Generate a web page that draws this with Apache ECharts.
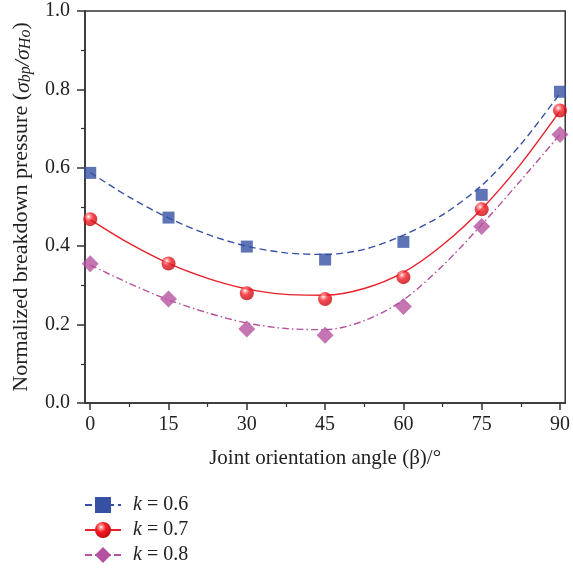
<!DOCTYPE html>
<html>
<head>
<meta charset="utf-8">
<script src="https://cdn.jsdelivr.net/npm/echarts@6/dist/echarts.min.js"></script>
<style>html,body{margin:0;padding:0;background:#fff}#c{width:573px;height:569px}</style>
</head>
<body>
<div id="c"></div>
<script>
const angles = [0, 15, 30, 45, 60, 75, 90];
const k06 = [0.587, 0.473, 0.399, 0.366, 0.411, 0.531, 0.794];
const k07 = [0.469, 0.356, 0.280, 0.265, 0.321, 0.494, 0.746];
const k08 = [0.355, 0.265, 0.189, 0.173, 0.246, 0.450, 0.685];
// fitted trend curves, every 7.5°
const fitAngles = [0, 7.5, 15, 22.5, 30, 37.5, 45, 52.5, 60, 67.5, 75, 82.5, 90];
const fit06 = [0.588, 0.525, 0.472, 0.430, 0.400, 0.383, 0.379, 0.392, 0.428, 0.480, 0.555, 0.660, 0.790];
const fit07 = [0.468, 0.407, 0.356, 0.318, 0.291, 0.277, 0.275, 0.292, 0.333, 0.403, 0.495, 0.610, 0.745];
const fit08 = [0.352, 0.305, 0.263, 0.230, 0.204, 0.190, 0.187, 0.210, 0.263, 0.350, 0.455, 0.568, 0.685];
const xTickValues = [0, 15, 30, 45, 60, 75, 90];
const xMinorTickValues = [7.5, 22.5, 37.5, 52.5, 67.5, 82.5];
const legendNames = ['k = 0.6', 'k = 0.7', 'k = 0.8'];

const FONT = '"Liberation Serif", "DejaVu Serif", serif';
const AX = '#333';
const TX = '#222';
const BLUE = '#3651a3';
const RED = '#e8202a';
const PURPLE = '#b5529f';
const redBall = {
  type: 'radial', x: 0.38, y: 0.32, r: 0.7,
  colorStops: [
    {offset: 0, color: '#ffffff'},
    {offset: 0.18, color: '#ff8a8a'},
    {offset: 0.45, color: '#f01c24'},
    {offset: 1, color: '#c4060e'}
  ]
};
const pair = (xs, ys) => xs.map((x, i) => [x, ys[i]]);

const legendTops = [495, 520, 545];
const legends = legendNames.map((n, i) => ({
  data: [n],
  left: 84, top: legendTops[i], padding: 0,
  itemWidth: 36, itemHeight: 20,
  formatter: name => '{i|k} = ' + name.split('= ')[1],
  textStyle: {fontFamily: FONT, fontSize: 20, color: TX, padding: [0, 0, 0, 7],
    rich: {i: {fontFamily: FONT, fontStyle: 'italic', fontSize: 20, color: TX}}}
}));

const chart = echarts.init(document.getElementById('c'));
const common = {min: -1, max: 91, type: 'value', splitLine: {show: false}};
chart.setOption({
  animation: false,
  grid: {left: 85, right: 7, top: 11, bottom: 166, show: true, borderColor: AX, borderWidth: 1.5, backgroundColor: 'transparent'},
  legend: legends,
  xAxis: [
    Object.assign({}, common, {
      position: 'bottom',
      name: 'Joint orientation angle (β)/°',
      nameLocation: 'middle', nameGap: 45,
      nameTextStyle: {fontFamily: FONT, fontSize: 21, color: TX},
      axisLine: {onZero: false, lineStyle: {color: AX, width: 1.5}},
      axisTick: {customValues: xTickValues, length: 7, lineStyle: {color: AX, width: 1.5}},
      axisLabel: {customValues: xTickValues, margin: 12, fontFamily: FONT, fontSize: 20, color: TX}
    }),
    Object.assign({}, common, {
      position: 'bottom',
      axisLine: {show: false},
      axisTick: {customValues: xMinorTickValues, length: 4, lineStyle: {color: AX, width: 1.2}},
      axisLabel: {show: false}
    })
  ],
  yAxis: {
    type: 'value', min: 0, max: 1, interval: 0.2,
    name: 'Normalized breakdown pressure ({i|σ}{s|bp}{i|/σ}{s|Ho})',
    nameLocation: 'middle', nameGap: 51, nameRotate: 90,
    nameTextStyle: {fontFamily: FONT, fontSize: 22, color: TX, lineHeight: 26, verticalAlign: 'bottom',
      rich: {
        i: {fontFamily: FONT, fontStyle: 'italic', fontSize: 22, color: TX, lineHeight: 26, verticalAlign: 'bottom'},
        s: {fontFamily: FONT, fontStyle: 'italic', fontSize: 16, color: TX, lineHeight: 16, padding: [10, 0, 0, 0], verticalAlign: 'bottom'}
      }},
    axisLine: {show: true, onZero: false, lineStyle: {color: AX, width: 1.5}},
    axisTick: {show: true, length: 8, lineStyle: {color: AX, width: 1.5}},
    minorTick: {show: true, splitNumber: 2, length: 4, lineStyle: {color: AX, width: 1.2}},
    splitLine: {show: false},
    axisLabel: {margin: 15, fontFamily: FONT, fontSize: 20, color: TX, formatter: v => v.toFixed(1)}
  },
  series: [
    {name: legendNames[0], type: 'line', smooth: 0.3, data: pair(fitAngles, fit06), showSymbol: false,
      symbol: 'rect', symbolSize: 12, itemStyle: {color: BLUE},
      lineStyle: {color: BLUE, width: 1.4, type: [7, 4]}, z: 2},
    {name: legendNames[1], type: 'line', smooth: 0.3, data: pair(fitAngles, fit07), showSymbol: false,
      symbol: 'circle', symbolSize: 14, itemStyle: {color: redBall},
      lineStyle: {color: RED, width: 1.4}, z: 2},
    {name: legendNames[2], type: 'line', smooth: 0.3, data: pair(fitAngles, fit08), showSymbol: false,
      symbol: 'diamond', symbolSize: 17, itemStyle: {color: PURPLE},
      lineStyle: {color: PURPLE, width: 1.4, type: [7, 3, 1.5, 3]}, z: 2},
    {name: 'p06', type: 'scatter', data: pair(angles, k06), symbol: 'rect', symbolSize: 12,
      itemStyle: {color: BLUE}, z: 3},
    {name: 'p07', type: 'scatter', data: pair(angles, k07), symbol: 'circle', symbolSize: 14,
      itemStyle: {color: redBall}, z: 3},
    {name: 'p08', type: 'scatter', data: pair(angles, k08), symbol: 'diamond', symbolSize: 17,
      itemStyle: {color: PURPLE}, z: 3}
  ]
});
</script>
</body>
</html>
